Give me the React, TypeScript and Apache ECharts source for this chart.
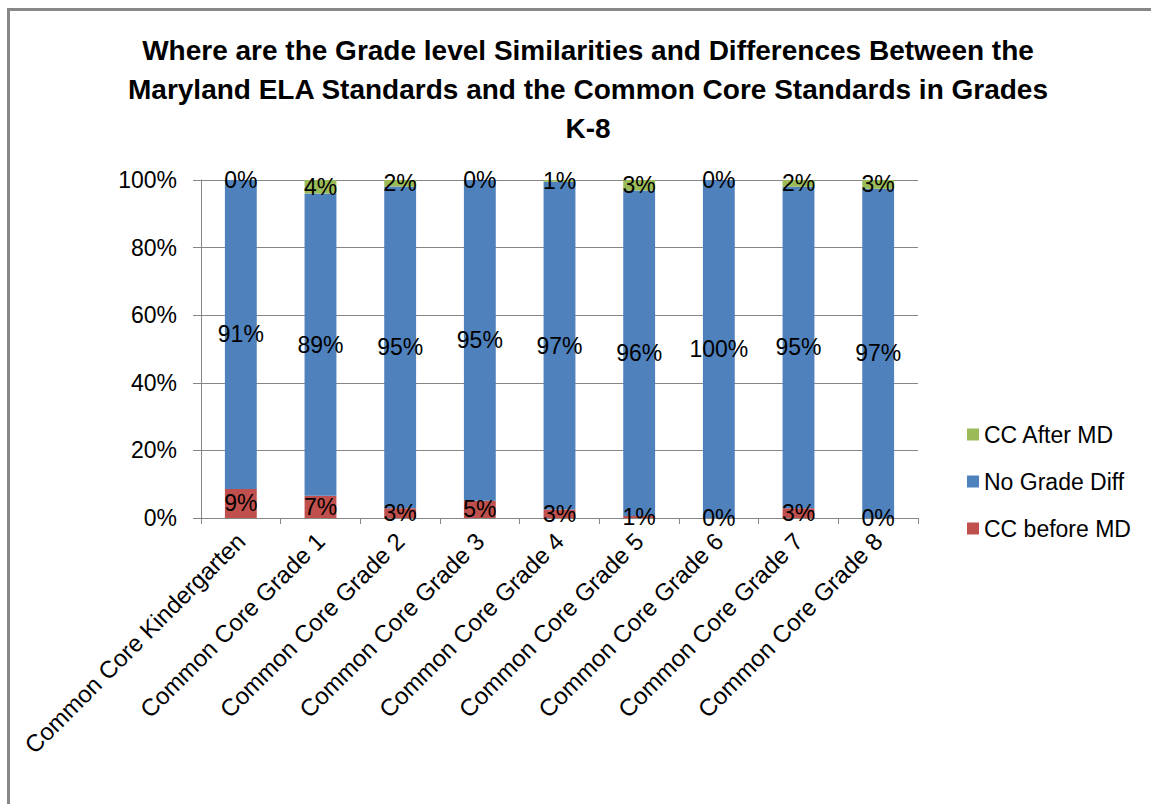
import React, { useEffect, useRef } from "react";
import * as echarts from "echarts";

const categories = [
  "Common Core Kindergarten",
  "Common Core Grade 1",
  "Common Core Grade 2",
  "Common Core Grade 3",
  "Common Core Grade 4",
  "Common Core Grade 5",
  "Common Core Grade 6",
  "Common Core Grade 7",
  "Common Core Grade 8",
];
const ccBeforeMD = [8.6, 6.6, 2.9, 5.1, 2.5, 0.6, 0, 2.9, 0];
const noGradeDiff = [91.4, 89.4, 95.2, 94.9, 97.0, 96.3, 100, 95.1, 97.4];
const ccAfterMD = [0, 4.0, 1.9, 0, 0.5, 3.1, 0, 2.0, 2.6];
const yTicks = [0, 20, 40, 60, 80, 100];

const titleText =
  "Where are the Grade level Similarities and Differences Between the\nMaryland ELA Standards and the Common Core Standards in Grades\nK-8";

const FONT = "Liberation Sans";
const AXIS_GRAY = "#868686";

export default function App() {
  const ref = useRef<HTMLDivElement>(null);

  useEffect(() => {
    if (!ref.current) return;
    const chart = echarts.init(ref.current, undefined, { renderer: "svg" });
    const labelCfg = {
      show: true,
      position: "inside",
      fontFamily: FONT,
      fontSize: 23,
      color: "#000",
      formatter: (p: any) => Math.round(p.value) + "%",
    };
    chart.setOption({
      animation: false,
      textStyle: { fontFamily: FONT },
      title: {
        text: titleText,
        left: 583,
        top: 26,
        textAlign: "center",
        textStyle: {
          fontFamily: FONT,
          fontSize: 28,
          fontWeight: "bold",
          color: "#000",
          lineHeight: 39,
        },
      },
      legend: {
        orient: "vertical",
        left: 962,
        top: 418,
        itemGap: 24,
        itemWidth: 12,
        itemHeight: 12,
        icon: "rect",
        data: ["CC After MD", "No Grade Diff", "CC before MD"],
        textStyle: { fontFamily: FONT, fontSize: 23, color: "#000" },
      },
      grid: { left: 201, top: 180, width: 717, height: 338, containLabel: false },
      xAxis: {
        type: "category",
        data: categories,
        axisLine: { show: true, lineStyle: { color: AXIS_GRAY, width: 1 } },
        axisTick: { show: true, length: 6, lineStyle: { color: AXIS_GRAY } },
        axisLabel: {
          rotate: 45,
          interval: 0,
          margin: 19,
          fontFamily: FONT,
          fontSize: 24,
          color: "#000",
        },
      },
      yAxis: {
        type: "value",
        min: 0,
        max: 100,
        interval: 20,
        axisLine: { show: true, lineStyle: { color: AXIS_GRAY, width: 1 } },
        axisTick: { show: true, length: 8, lineStyle: { color: AXIS_GRAY } },
        splitLine: { show: true, lineStyle: { color: AXIS_GRAY, width: 1 } },
        axisLabel: {
          margin: 24,
          fontFamily: FONT,
          fontSize: 23,
          color: "#000",
          formatter: (v: number) => (yTicks.includes(v) ? v + "%" : ""),
        },
      },
      series: [
        {
          name: "CC before MD",
          type: "bar",
          stack: "total",
          barCategoryGap: "60%",
          itemStyle: { color: "#C0504D" },
          label: labelCfg,
          data: ccBeforeMD,
        },
        {
          name: "No Grade Diff",
          type: "bar",
          stack: "total",
          barCategoryGap: "60%",
          itemStyle: { color: "#4F81BD" },
          label: labelCfg,
          data: noGradeDiff,
        },
        {
          name: "CC After MD",
          type: "bar",
          stack: "total",
          barCategoryGap: "60%",
          itemStyle: { color: "#9BBB59" },
          label: labelCfg,
          data: ccAfterMD,
        },
      ],
    });
    return () => chart.dispose();
  }, []);

  return (
    <div
      style={{
        position: "fixed",
        left: 0,
        top: 0,
        width: 1151,
        height: 804,
        overflow: "hidden",
        background: "#fff",
      }}
    >
      <div
        style={{
          position: "absolute",
          left: 7,
          top: 8,
          width: 1300,
          height: 1000,
          borderTop: "3px solid #878787",
          borderLeft: "3px solid #878787",
        }}
      />
      <div
        ref={ref}
        style={{ position: "absolute", left: 0, top: 0, width: 1151, height: 804 }}
      />
    </div>
  );
}
